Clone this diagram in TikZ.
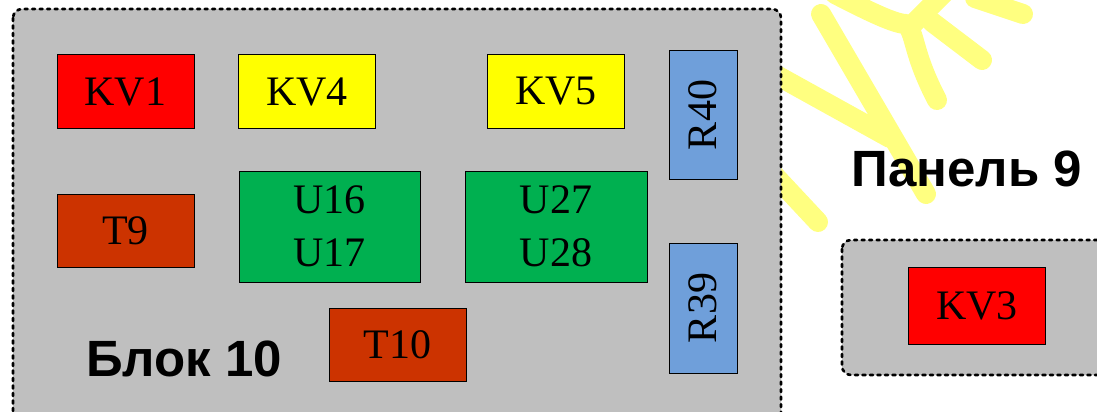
\documentclass[tikz,border=0pt]{standalone}
\usepackage{fontspec}
\setmainfont{Liberation Serif}
\newfontfamily\labelfont{Liberation Sans}
\definecolor{wmyellow}{HTML}{FFFF80}
\definecolor{boxgray}{HTML}{BFBFBF}
\definecolor{kvred}{HTML}{FF0000}
\definecolor{kvyellow}{HTML}{FFFF00}
\definecolor{ugreen}{HTML}{00B050}
\definecolor{tbrown}{HTML}{CC3300}
\definecolor{rblue}{HTML}{6F9FDA}
\begin{document}
\begin{tikzpicture}[x=1pt,y=-1pt,
  partbox/.style={draw=black,line width=1pt,inner sep=0pt,align=center,
    font=\fontsize{42}{53}\selectfont},
  group/.style={draw=black,fill=boxgray,line width=2.6pt,dash pattern=on 3pt off 4.5pt,
    line cap=round,rounded corners=9pt},
  wm/.style={draw=wmyellow,line width=20pt,line cap=round,line join=round},
  title/.style={font=\labelfont\bfseries\fontsize{51}{60}\selectfont,anchor=base,inner sep=0pt}]
\useasboundingbox (0,0) rectangle (1097,412);
\clip (0,0) rectangle (1097,412);
\fill[white] (0,0) rectangle (1097,412);
% watermark strokes
\draw[wm] (821,14) -- (926,194);
\draw[wm] (760,66) -- (890,138);
\draw[wm] (760,160) -- (818,222);
\draw[wm] (835,-6) .. controls (870,12) and (895,24) .. (906,24)
  .. controls (916,34) and (912,52) .. (937,100);
\draw[wm] (945,-8) -- (913,24);
\draw[wm] (932,22) -- (982,60);
\draw[wm] (975,-2) -- (1023,14);
% group boxes
\path[group] (13,9) rectangle (781,440);
\path[group] (842,240) rectangle (1130,375);
% parts
\node[partbox,fill=kvred,minimum width=137pt,minimum height=73pt] (kv1) at (125.5,91.5) {KV1};
\node[partbox,fill=kvyellow,minimum width=137pt,minimum height=73pt] (kv4) at (307,91.5) {KV4};
\node[partbox,fill=kvyellow,minimum width=137pt,minimum height=73pt] (kv5) at (556,91.5) {KV5};
\node[partbox,fill=tbrown,minimum width=137pt,minimum height=73pt] (t9) at (125.5,230.5) {T9};
\node[partbox,fill=ugreen,minimum width=181pt,minimum height=111pt] (u16) at (329.5,226.5) {U16\\U17};
\node[partbox,fill=ugreen,minimum width=182pt,minimum height=111pt] (u27) at (556,226.5) {U27\\U28};
\node[partbox,fill=tbrown,minimum width=137pt,minimum height=73pt] (t10) at (397.5,344.5) {T10};
\node[partbox,fill=rblue,minimum width=129pt,minimum height=68pt,rotate=90] (r40) at (703,115) {R40};
\node[partbox,fill=rblue,minimum width=130pt,minimum height=68pt,rotate=90] (r39) at (703,308) {R39};
\node[partbox,fill=kvred,minimum width=137pt,minimum height=77pt] (kv3) at (977,305.5) {KV3};
% titles
\node[title] (blok) at (184,376) {Блок 10};
\node[title] (panel) at (967,186) {Панель 9};
\end{tikzpicture}
\end{document}
